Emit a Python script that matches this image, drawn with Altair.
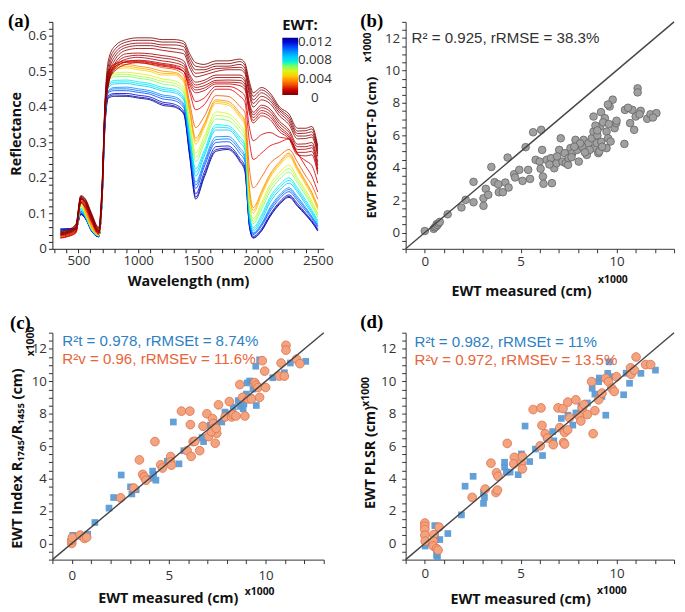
import altair as alt
import pandas as pd

# ---------------- panel (a): reflectance spectra ----------------
WAVELENGTH = [350, 420, 480, 520, 560, 610, 670, 700, 720, 750, 800, 900, 1000, 1100, 1200, 1300, 1380, 1430,
              1480, 1550, 1650, 1750, 1850, 1890, 1930, 1960, 2030, 2100, 2180, 2260, 2330, 2400, 2450, 2500]

W_0120 = [0.055, 0.056, 0.055, 0.098, 0.085, 0.050, 0.034, 0.150, 0.330, 0.425, 0.430, 0.430, 0.425, 0.420, 0.405, 0.400, 0.380, 0.260, 0.140, 0.200, 0.275, 0.280, 0.245, 0.220, 0.060, 0.030, 0.050, 0.090, 0.125, 0.145, 0.120, 0.095, 0.075, 0.050]
W_0115 = [0.056, 0.057, 0.056, 0.097, 0.084, 0.050, 0.034, 0.148, 0.332, 0.428, 0.434, 0.433, 0.428, 0.423, 0.409, 0.403, 0.383, 0.264, 0.146, 0.206, 0.280, 0.284, 0.249, 0.226, 0.062, 0.032, 0.052, 0.092, 0.128, 0.148, 0.123, 0.097, 0.077, 0.052]
W_0110 = [0.054, 0.055, 0.054, 0.100, 0.086, 0.051, 0.035, 0.150, 0.338, 0.432, 0.438, 0.438, 0.433, 0.428, 0.414, 0.408, 0.388, 0.270, 0.155, 0.215, 0.288, 0.290, 0.255, 0.233, 0.065, 0.035, 0.056, 0.096, 0.132, 0.152, 0.128, 0.100, 0.080, 0.055]
W_0100 = [0.052, 0.053, 0.054, 0.104, 0.087, 0.051, 0.035, 0.154, 0.345, 0.440, 0.446, 0.446, 0.441, 0.436, 0.423, 0.418, 0.398, 0.283, 0.170, 0.230, 0.300, 0.302, 0.268, 0.248, 0.071, 0.040, 0.064, 0.105, 0.141, 0.161, 0.136, 0.107, 0.086, 0.060]
W_0095 = [0.051, 0.052, 0.053, 0.106, 0.088, 0.052, 0.036, 0.155, 0.348, 0.443, 0.451, 0.451, 0.446, 0.441, 0.429, 0.424, 0.404, 0.290, 0.180, 0.238, 0.308, 0.310, 0.277, 0.257, 0.076, 0.043, 0.068, 0.111, 0.147, 0.167, 0.142, 0.112, 0.090, 0.064]
W_0090 = [0.050, 0.052, 0.053, 0.106, 0.088, 0.052, 0.036, 0.156, 0.350, 0.446, 0.455, 0.456, 0.451, 0.446, 0.434, 0.429, 0.409, 0.296, 0.188, 0.245, 0.316, 0.317, 0.284, 0.264, 0.080, 0.045, 0.071, 0.116, 0.152, 0.172, 0.147, 0.116, 0.092, 0.066]
W_0080 = [0.050, 0.050, 0.052, 0.110, 0.090, 0.054, 0.037, 0.160, 0.360, 0.455, 0.465, 0.466, 0.461, 0.456, 0.445, 0.440, 0.420, 0.310, 0.205, 0.260, 0.335, 0.335, 0.300, 0.280, 0.090, 0.050, 0.080, 0.130, 0.165, 0.185, 0.160, 0.125, 0.100, 0.070]
W_0075 = [0.048, 0.050, 0.052, 0.113, 0.091, 0.054, 0.037, 0.161, 0.362, 0.460, 0.470, 0.471, 0.466, 0.461, 0.450, 0.445, 0.425, 0.318, 0.216, 0.268, 0.343, 0.341, 0.308, 0.289, 0.095, 0.055, 0.088, 0.138, 0.173, 0.193, 0.166, 0.131, 0.105, 0.075]
W_0070 = [0.047, 0.049, 0.051, 0.115, 0.092, 0.055, 0.037, 0.162, 0.365, 0.464, 0.475, 0.476, 0.471, 0.466, 0.455, 0.450, 0.430, 0.325, 0.226, 0.276, 0.350, 0.347, 0.315, 0.296, 0.100, 0.060, 0.095, 0.145, 0.180, 0.200, 0.172, 0.137, 0.110, 0.080]
W_0060 = [0.045, 0.048, 0.050, 0.120, 0.095, 0.056, 0.038, 0.165, 0.370, 0.472, 0.485, 0.486, 0.481, 0.476, 0.465, 0.460, 0.440, 0.342, 0.246, 0.296, 0.366, 0.362, 0.330, 0.311, 0.112, 0.071, 0.111, 0.161, 0.196, 0.216, 0.186, 0.150, 0.121, 0.090]
W_0055 = [0.044, 0.047, 0.050, 0.123, 0.096, 0.057, 0.038, 0.166, 0.372, 0.476, 0.490, 0.492, 0.487, 0.482, 0.472, 0.467, 0.447, 0.351, 0.258, 0.306, 0.376, 0.372, 0.340, 0.321, 0.121, 0.078, 0.121, 0.171, 0.206, 0.226, 0.194, 0.158, 0.128, 0.095]
W_0050 = [0.042, 0.046, 0.050, 0.126, 0.098, 0.058, 0.039, 0.168, 0.374, 0.480, 0.495, 0.498, 0.494, 0.489, 0.479, 0.474, 0.455, 0.360, 0.270, 0.316, 0.386, 0.381, 0.350, 0.330, 0.130, 0.085, 0.130, 0.180, 0.215, 0.236, 0.201, 0.165, 0.135, 0.100]
W_0040 = [0.040, 0.045, 0.050, 0.135, 0.100, 0.060, 0.040, 0.170, 0.380, 0.490, 0.505, 0.510, 0.505, 0.500, 0.490, 0.490, 0.470, 0.380, 0.295, 0.340, 0.410, 0.405, 0.370, 0.350, 0.150, 0.100, 0.150, 0.200, 0.235, 0.260, 0.220, 0.180, 0.150, 0.110]
W_0035 = [0.038, 0.043, 0.050, 0.138, 0.104, 0.062, 0.040, 0.170, 0.381, 0.494, 0.509, 0.515, 0.510, 0.505, 0.495, 0.494, 0.475, 0.388, 0.304, 0.346, 0.415, 0.410, 0.376, 0.356, 0.160, 0.108, 0.156, 0.205, 0.240, 0.265, 0.225, 0.185, 0.155, 0.115]
W_0030 = [0.035, 0.040, 0.050, 0.140, 0.108, 0.065, 0.040, 0.170, 0.382, 0.498, 0.514, 0.520, 0.515, 0.510, 0.501, 0.498, 0.480, 0.396, 0.312, 0.352, 0.420, 0.416, 0.382, 0.362, 0.170, 0.116, 0.162, 0.210, 0.245, 0.270, 0.230, 0.190, 0.160, 0.120]
W_0022 = [0.031, 0.036, 0.046, 0.132, 0.110, 0.070, 0.041, 0.172, 0.385, 0.496, 0.520, 0.526, 0.525, 0.520, 0.511, 0.506, 0.490, 0.412, 0.342, 0.372, 0.432, 0.430, 0.401, 0.385, 0.222, 0.172, 0.202, 0.240, 0.262, 0.280, 0.245, 0.205, 0.180, 0.140]
W_0015 = [0.030, 0.035, 0.045, 0.130, 0.115, 0.075, 0.042, 0.172, 0.383, 0.492, 0.520, 0.530, 0.530, 0.526, 0.520, 0.515, 0.500, 0.442, 0.392, 0.406, 0.450, 0.450, 0.430, 0.415, 0.300, 0.252, 0.270, 0.290, 0.300, 0.310, 0.270, 0.232, 0.205, 0.160]
W_0012 = [0.032, 0.037, 0.047, 0.130, 0.118, 0.078, 0.044, 0.171, 0.378, 0.482, 0.512, 0.526, 0.528, 0.524, 0.518, 0.512, 0.500, 0.452, 0.415, 0.425, 0.458, 0.458, 0.445, 0.432, 0.340, 0.305, 0.322, 0.328, 0.315, 0.310, 0.268, 0.248, 0.235, 0.185]
W_0009 = [0.036, 0.040, 0.050, 0.130, 0.120, 0.080, 0.045, 0.170, 0.370, 0.470, 0.500, 0.520, 0.525, 0.521, 0.515, 0.510, 0.500, 0.462, 0.440, 0.446, 0.465, 0.465, 0.460, 0.450, 0.380, 0.355, 0.375, 0.365, 0.330, 0.310, 0.265, 0.262, 0.265, 0.210]
W_0008 = [0.038, 0.043, 0.053, 0.135, 0.122, 0.082, 0.046, 0.170, 0.365, 0.465, 0.505, 0.528, 0.532, 0.529, 0.523, 0.518, 0.508, 0.469, 0.448, 0.453, 0.470, 0.470, 0.468, 0.458, 0.388, 0.362, 0.383, 0.373, 0.338, 0.315, 0.272, 0.272, 0.275, 0.218]
W_0007 = [0.040, 0.045, 0.055, 0.140, 0.125, 0.085, 0.046, 0.170, 0.360, 0.460, 0.510, 0.535, 0.540, 0.536, 0.530, 0.525, 0.515, 0.476, 0.455, 0.460, 0.475, 0.476, 0.475, 0.465, 0.395, 0.370, 0.390, 0.380, 0.345, 0.320, 0.280, 0.281, 0.285, 0.225]
W_0006 = [0.042, 0.047, 0.058, 0.142, 0.128, 0.088, 0.048, 0.170, 0.360, 0.465, 0.515, 0.542, 0.546, 0.543, 0.538, 0.533, 0.522, 0.484, 0.462, 0.468, 0.483, 0.483, 0.483, 0.473, 0.403, 0.378, 0.398, 0.388, 0.353, 0.328, 0.288, 0.288, 0.292, 0.235]
W_0005 = [0.045, 0.050, 0.060, 0.145, 0.130, 0.090, 0.050, 0.170, 0.360, 0.470, 0.520, 0.550, 0.552, 0.550, 0.545, 0.540, 0.530, 0.491, 0.470, 0.475, 0.490, 0.490, 0.490, 0.480, 0.410, 0.385, 0.405, 0.395, 0.360, 0.335, 0.295, 0.296, 0.300, 0.245]
W_0004 = [0.040, 0.045, 0.060, 0.140, 0.130, 0.090, 0.050, 0.180, 0.370, 0.480, 0.530, 0.560, 0.565, 0.565, 0.560, 0.555, 0.550, 0.510, 0.485, 0.490, 0.500, 0.505, 0.505, 0.495, 0.430, 0.400, 0.420, 0.410, 0.375, 0.350, 0.310, 0.311, 0.315, 0.260]
W_0003 = [0.043, 0.048, 0.062, 0.142, 0.132, 0.092, 0.052, 0.185, 0.375, 0.490, 0.540, 0.568, 0.573, 0.573, 0.568, 0.565, 0.560, 0.520, 0.495, 0.498, 0.508, 0.510, 0.512, 0.502, 0.440, 0.410, 0.430, 0.418, 0.383, 0.358, 0.318, 0.318, 0.322, 0.268]
W_0002 = [0.045, 0.050, 0.065, 0.145, 0.135, 0.095, 0.055, 0.190, 0.380, 0.500, 0.550, 0.575, 0.580, 0.580, 0.575, 0.575, 0.570, 0.530, 0.505, 0.505, 0.515, 0.515, 0.520, 0.510, 0.450, 0.420, 0.440, 0.425, 0.390, 0.365, 0.325, 0.326, 0.330, 0.275]
W_0001 = [0.048, 0.053, 0.068, 0.148, 0.138, 0.098, 0.058, 0.195, 0.390, 0.515, 0.560, 0.583, 0.588, 0.588, 0.583, 0.583, 0.578, 0.540, 0.515, 0.512, 0.522, 0.522, 0.528, 0.518, 0.460, 0.430, 0.448, 0.433, 0.395, 0.372, 0.332, 0.333, 0.338, 0.282]
W_0000 = [0.050, 0.055, 0.070, 0.150, 0.140, 0.100, 0.060, 0.200, 0.400, 0.530, 0.570, 0.590, 0.595, 0.595, 0.590, 0.590, 0.585, 0.550, 0.525, 0.520, 0.530, 0.530, 0.535, 0.525, 0.470, 0.440, 0.455, 0.440, 0.400, 0.380, 0.340, 0.340, 0.345, 0.290]

# wet spectra first so the dry (dark red) ones are drawn on top
SPECTRA = [(0.0120, W_0120), (0.0115, W_0115), (0.0110, W_0110), (0.0100, W_0100), (0.0095, W_0095),
           (0.0090, W_0090), (0.0080, W_0080), (0.0075, W_0075), (0.0070, W_0070), (0.0060, W_0060),
           (0.0055, W_0055), (0.0050, W_0050), (0.0040, W_0040), (0.0035, W_0035), (0.0030, W_0030),
           (0.0022, W_0022), (0.0015, W_0015), (0.0012, W_0012), (0.0009, W_0009), (0.0008, W_0008),
           (0.0007, W_0007), (0.0006, W_0006), (0.0005, W_0005), (0.0004, W_0004), (0.0003, W_0003),
           (0.0002, W_0002), (0.0001, W_0001), (0.0000, W_0000)]

JET_DOMAIN = [0, 0.0015, 0.003, 0.0045, 0.006, 0.0075, 0.009, 0.0105, 0.012]
JET_RANGE = ["#800000", "#e60000", "#ff8c00", "#ffee00", "#7fff5f", "#00e0ff", "#0090ff", "#0010ff", "#00008f"]
LEGEND_LABELS = ["0.012", "0.008", "0.004", "0"]

A_X_TICKS = list(range(300, 2600, 100))
A_Y_TICKS = [round(i * 0.02, 2) for i in range(0, 33)]

# ---------------- panel (b): PROSPECT-D ----------------
B_MEAS = [0.0, 0.46, 0.52, 0.58, 0.62, 0.66, 0.72, 0.78, 1.19, 1.91, 2.13, 2.54, 2.54, 3.06, 3.06, 3.18, 3.31, 3.47,
          3.64, 3.83, 3.86, 4.07, 4.20, 4.37, 4.32, 4.66, 4.71, 4.93, 5.10, 5.39, 5.49, 5.26, 5.65, 6.07, 5.78, 5.99,
          6.12, 6.04, 6.16, 6.19, 6.36, 6.58, 6.63, 6.75, 6.87, 7.09, 7.01, 7.18, 7.35, 7.47, 7.60, 7.69, 7.86, 7.94,
          8.03, 8.20, 8.28, 8.45, 8.54, 8.71, 8.80, 8.85, 8.97, 9.05, 9.14, 8.80, 9.19, 9.39, 9.48, 9.56, 9.48, 9.64,
          9.69, 9.90, 9.98, 10.41, 10.44, 10.71, 10.83, 10.92, 11.00, 11.26, 11.60, 11.77, 12.08, 11.10, 11.10, 9.80,
          9.55, 7.30, 7.50, 8.60, 9.00, 9.30, 8.10, 7.80, 6.90, 6.50, 9.20, 8.35, 7.65, 9.10, 9.25, 8.90, 9.60, 10.00,
          10.60, 11.20, 11.90, 9.00]
B_PRED = [0.10, 0.23, 0.32, 0.37, 0.52, 0.47, 0.58, 0.66, 1.13, 1.55, 2.02, 1.87, 3.13, 1.65, 2.12, 2.70, 2.33, 4.05,
          3.11, 2.98, 2.49, 2.49, 3.09, 2.78, 4.63, 3.60, 3.40, 3.87, 3.19, 3.87, 3.31, 5.27, 6.19, 6.34, 4.49, 4.38,
          5.10, 3.94, 3.46, 3.01, 4.49, 4.59, 3.05, 3.97, 4.28, 5.82, 5.10, 4.38, 4.28, 4.18, 5.21, 4.90, 5.72, 5.10,
          4.38, 5.31, 5.72, 4.79, 5.52, 5.82, 6.23, 5.21, 5.52, 4.90, 6.54, 7.16, 7.43, 7.06, 6.23, 5.82, 5.21, 7.78,
          5.62, 6.44, 6.75, 5.47, 7.57, 6.75, 7.57, 6.34, 7.16, 7.51, 7.02, 7.30, 7.37, 8.90, 8.65, 8.20,
          7.90, 4.90, 4.60, 5.10, 6.00, 6.80, 5.50, 5.30, 4.70, 4.20, 5.60, 4.95, 4.65, 5.00, 5.30, 6.60, 6.70, 6.90,
          7.70, 7.30, 7.10, 6.30]

# ---------------- panel (c): index R1745/R1455 ----------------
C_TRAIN_MEAS = [0.00, 0.05, 0.82, 0.70, 1.19, 1.92, 2.16, 2.55, 3.03, 3.10, 3.32, 4.08, 4.17, 4.22, 4.34, 4.93, 5.24,
                5.53, 5.78, 6.29, 6.72, 6.80, 7.14, 7.48, 7.74, 7.99, 8.33, 8.59, 8.84, 8.88, 9.01, 9.18, 9.35, 9.49,
                9.52, 9.69, 10.37, 10.80, 10.97, 11.28, 12.07, 9.05, 8.70, 7.90, 9.20]
C_TRAIN_PRED = [0.30, 0.50, 0.57, 0.45, 1.29, 2.18, 2.83, 4.22, 3.49, 3.05, 3.31, 4.02, 4.46, 4.26, 3.90, 5.07, 7.49,
                4.91, 5.72, 6.28, 6.53, 6.28, 7.29, 7.39, 7.49, 8.00, 8.40, 8.81, 8.30, 8.61, 9.21, 10.02, 9.52, 10.93,
                8.51, 11.33, 10.22, 10.32, 10.53, 11.13, 11.23, 9.90, 8.45, 8.10, 9.00]
C_VAL_MEAS = [0.00, 0.00, 0.03, 0.43, 0.65, 0.77, 2.52, 3.20, 3.49, 3.66, 3.74, 3.83, 4.29, 4.59, 4.68, 5.10, 5.10,
              5.14, 5.66, 6.09, 6.12, 5.95, 6.16, 6.26, 6.60, 6.77, 6.97, 7.06, 7.26, 7.31, 7.31, 7.40, 7.48, 7.57,
              7.91, 8.13, 8.25, 8.33, 8.47, 8.67, 8.81, 8.93, 9.10, 9.27, 9.44, 9.52, 9.61, 9.69, 9.83, 9.95, 10.00,
              10.80, 10.71, 10.97, 11.05, 11.05, 11.60, 11.77, 6.35, 7.20, 7.45]
C_VAL_PRED = [0.00, 0.20, 0.36, 0.51, 0.31, 0.38, 2.81, 3.41, 5.15, 4.26, 4.10, 3.90, 6.28, 4.85, 4.65, 5.36, 5.03,
              4.83, 8.16, 8.16, 7.33, 5.72, 5.37, 6.28, 5.72, 7.23, 8.00, 6.59, 7.70, 7.39, 7.09, 6.18, 6.79, 8.55,
              7.80, 8.75, 7.80, 7.94, 7.86, 9.80, 9.01, 7.86, 8.91, 8.91, 9.92, 9.76, 9.62, 9.01, 11.27, 10.63, 9.62,
              11.13, 10.32, 10.32, 12.22, 11.92, 11.37, 11.09, 6.30, 6.90, 7.10]

# ---------------- panel (d): PLSR ----------------
D_TRAIN_MEAS = [0.02, 0.07, 0.52, 0.58, 0.61, 0.66, 0.78, 0.55, 1.20, 1.91, 2.10, 2.52, 3.06, 3.06, 3.11, 4.16, 4.16,
                4.25, 4.45, 4.87, 5.04, 5.23, 5.47, 5.77, 6.14, 6.36, 6.67, 6.73, 7.12, 7.46, 7.72, 7.88, 8.14, 8.48,
                8.73, 8.87, 9.07, 9.10, 9.24, 9.44, 9.54, 9.61, 9.83, 10.37, 10.68, 11.27, 12.03, 10.50]
D_TRAIN_PRED = [-0.16, 0.04, 1.10, 0.24, -0.73, -0.83, 0.24, 0.60, 0.61, 1.76, 3.53, 4.14, 3.14, 2.47, 2.84, 5.01,
                4.71, 4.40, 4.40, 4.24, 5.52, 7.24, 5.05, 5.82, 5.42, 6.53, 6.90, 6.33, 7.71, 7.91, 7.30, 8.05, 8.46,
                8.66, 9.57, 9.21, 9.98, 10.20, 9.07, 7.91, 10.49, 11.20, 10.28, 9.17, 9.88, 10.49, 10.69, 10.50]
D_VAL_MEAS = [0.00, 0.00, 0.00, 0.00, 0.02, 0.47, 0.44, 0.44, 0.61, 0.69, 0.74, 2.47, 3.15, 3.45, 3.71, 3.79, 3.74,
              3.82, 4.30, 4.67, 4.64, 5.04, 5.09, 5.09, 5.65, 6.06, 6.11, 6.02, 6.28, 6.40, 6.70, 6.95, 7.21, 7.04,
              7.24, 7.29, 7.46, 7.55, 7.88, 8.05, 8.14, 8.22, 8.31, 8.48, 8.70, 8.78, 8.87, 9.07, 9.24, 9.44, 9.58,
              9.75, 9.88, 10.00, 10.73, 10.76, 11.02, 10.93, 11.52, 11.78, 7.30, 7.45]
D_VAL_PRED = [1.26, 1.05, 0.85, 0.51, 0.14, 0.55, 0.14, -0.16, -0.32, -0.41, 1.01, 2.84, 3.35, 4.95, 3.14, 3.29, 4.36,
              4.14, 6.17, 5.31, 4.91, 4.95, 4.60, 5.36, 8.26, 8.36, 7.28, 6.02, 6.77, 6.50, 6.09, 8.36, 8.32, 7.14,
              6.23, 6.13, 8.72, 7.75, 8.86, 7.85, 7.55, 8.36, 8.56, 7.95, 9.98, 6.77, 8.19, 8.86, 9.27, 10.18, 9.98,
              9.57, 9.37, 10.28, 10.83, 10.43, 11.50, 10.69, 11.03, 11.03, 6.85, 7.00]

ONE_TO_ONE = [-1, 13]
S_DOMAIN = [-1, 13]
S_X_TICKS = list(range(-1, 14))
S_Y_TICKS = [i / 2 for i in range(-2, 27)]

BLUE = "#5b9bd5"
BLUE_TXT = "#2e7fc4"
ORANGE_FILL = "#f2a37f"
ORANGE_STROKE = "#e0704a"
ORANGE_TXT = "#e8653a"

WA, HA = 275, 230
WB = 272


def txt(s, x, y, color="#333333", size=15.0, font="Liberation Sans", weight="normal",
        align="left", baseline="middle", angle=0):
    return alt.Chart(pd.DataFrame({"t": [s]})).mark_text(
        align=align, baseline=baseline, font=font, fontSize=size, fontWeight=weight,
        color=color, angle=angle
    ).encode(text="t:N", x=alt.value(x), y=alt.value(y))


def panel_label(s, x, y):
    return txt(s, x, y, color="#000000", size=19, font="Liberation Serif", weight="bold",
               align="left", baseline="top")


def sup(x, y, vertical=False):
    if vertical:
        return txt("x1000", x, y, color="#111111", size=10.5, font="Open Sans", weight="bold",
                   align="left", baseline="middle", angle=270)
    return txt("x1000", x, y, color="#111111", size=10.5, font="Open Sans", weight="bold",
               align="left", baseline="middle")


# ---------------- build panel (a) ----------------
rows = []
for k, (ewt, refl) in enumerate(SPECTRA):
    for wl, r in zip(WAVELENGTH, refl):
        rows.append({"id": k, "ewt": ewt, "wl": wl, "refl": r})
spec_df = pd.DataFrame(rows)

a_lines = alt.Chart(spec_df).mark_line(strokeWidth=0.85, interpolate="monotone").encode(
    x=alt.X("wl:Q", scale=alt.Scale(domain=[283, 2550], nice=False, zero=False),
            axis=alt.Axis(title="Wavelength (nm)", values=A_X_TICKS,
                          labelExpr="datum.value % 500 == 0 ? format(datum.value, 'd') : ''",
                          tickSize=4, labelPadding=1, titleY=37, titleBaseline="alphabetic",
                          labelFlush=False, labelOverlap=False, domainColor="#222", tickColor="#222")),
    y=alt.Y("refl:Q", scale=alt.Scale(domain=[0, 0.64], nice=False),
            axis=alt.Axis(title="Reflectance", values=A_Y_TICKS,
                          labelExpr="abs(datum.value*10 - round(datum.value*10)) < 0.001 ? (datum.value == 0 ? '0' : format(datum.value, '.1f')) : ''",
                          tickSize=4, labelPadding=2, titleX=-32, titleY=113, titleBaseline="alphabetic",
                          labelFlush=False, labelOverlap=False, domainColor="#222", tickColor="#222")),
    color=alt.Color("ewt:Q", scale=alt.Scale(domain=JET_DOMAIN, range=JET_RANGE),
                    legend=alt.Legend(title="EWT:", orient="none", legendX=233, legendY=-4,
                                      direction="vertical", gradientLength=58, gradientThickness=16,
                                      labelOpacity=0, labelFontSize=1, titleFont="Open Sans",
                                      titleFontSize=15, titleFontWeight="bold", titleColor="#111111",
                                      titlePadding=5, gradientStrokeWidth=0)),
    detail="id:N",
)
legend_text = [txt(lab, 266, pos, color="#333333", size=13.5, font="Open Sans", align="center")
               for lab, pos in zip(LEGEND_LABELS, [20, 39, 58, 77])]

panel_a = alt.layer(a_lines, *legend_text, panel_label("(a)", -45, -10)).properties(width=WA, height=HA)


# ---------------- scatter panel helper ----------------
def scatter_axes(xtitle, ytitle, lab_pad_x, lab_pad_y, title_x_pos, title_x_y, title_y_x, title_y_y,
                 ytitle_size=14.5):
    sc = alt.Scale(domain=S_DOMAIN, nice=False, zero=False)
    xax = alt.Axis(title=xtitle, values=S_X_TICKS,
                   labelExpr="datum.value >= 0 && datum.value % 5 == 0 ? format(datum.value, 'd') : ''",
                   tickSize=4, labelPadding=lab_pad_x, titleX=title_x_pos, titleY=title_x_y,
                   titleBaseline="alphabetic", labelFlush=False, labelOverlap=False)
    yax = alt.Axis(title=ytitle, values=S_Y_TICKS,
                   labelExpr="datum.value >= 0 && datum.value % 2 == 0 ? format(datum.value, 'd') : ''",
                   tickSize=4, labelPadding=lab_pad_y, titleX=title_y_x, titleY=title_y_y,
                   titleBaseline="alphabetic", labelFlush=False, labelOverlap=False,
                   titleFontSize=ytitle_size)
    return sc, xax, yax


def one_to_one(sc, xax, yax):
    return alt.Chart(pd.DataFrame({"meas": ONE_TO_ONE, "pred": ONE_TO_ONE})).mark_line(
        color="#454545", strokeWidth=1.4).encode(
        x=alt.X("meas:Q", scale=sc, axis=xax), y=alt.Y("pred:Q", scale=sc, axis=yax))


# ---------------- panel (b) ----------------
sc, xax, yax = scatter_axes("EWT measured (cm)", "EWT PROSPECT-D (cm)", 2, 2, 117, 47, -31, 127,
                            ytitle_size=13.2)
b_pts = alt.Chart(pd.DataFrame({"meas": B_MEAS, "pred": B_PRED})).mark_circle(
    size=60, fill="#a0a0a0", stroke="#646464", strokeWidth=0.8, opacity=1).encode(
    x=alt.X("meas:Q", scale=sc, axis=xax), y=alt.Y("pred:Q", scale=sc, axis=yax))
panel_b = alt.layer(
    b_pts, one_to_one(sc, xax, yax),
    txt("R² = 0.925, rRMSE = 38.3%", 6, 16.5, color="#333333", size=15.3),
    panel_label("(b)", -46, -10),
    sup(195, 262), sup(-38, 41, vertical=True),
).properties(width=WB, height=HA)

# ---------------- panel (c) ----------------
sc, xax, yax = scatter_axes("EWT measured (cm)", "EWT Index R₁₇₄₅/R₁₄₅₅ (cm)", 5, 2, 117, 43, -31, 127)
c_train = alt.Chart(pd.DataFrame({"meas": C_TRAIN_MEAS, "pred": C_TRAIN_PRED})).mark_square(
    size=46, color=BLUE, opacity=0.95).encode(
    x=alt.X("meas:Q", scale=sc, axis=xax), y=alt.Y("pred:Q", scale=sc, axis=yax))
c_val = alt.Chart(pd.DataFrame({"meas": C_VAL_MEAS, "pred": C_VAL_PRED})).mark_circle(
    size=78, fill=ORANGE_FILL, stroke=ORANGE_STROKE, strokeWidth=0.8, opacity=1).encode(
    x=alt.X("meas:Q", scale=sc, axis=xax), y=alt.Y("pred:Q", scale=sc, axis=yax))
panel_c = alt.layer(
    c_train, c_val, one_to_one(sc, xax, yax),
    txt("R²t = 0.978, rRMSEt = 8.74%", 10, 8, color=BLUE_TXT, size=15.3),
    txt("R²v = 0.96, rRMSEv = 11.6%", 10, 27, color=ORANGE_TXT, size=15.3),
    panel_label("(c)", -43, -19),
    sup(195, 263), sup(-21.5, 24, vertical=True),
).properties(width=WA, height=HA)

# ---------------- panel (d) ----------------
sc, xax, yax = scatter_axes("EWT measured (cm)", "EWT PLSR (cm)", 3, 6, 116, 44, -32, 126)
d_train = alt.Chart(pd.DataFrame({"meas": D_TRAIN_MEAS, "pred": D_TRAIN_PRED})).mark_square(
    size=46, color=BLUE, opacity=0.95).encode(
    x=alt.X("meas:Q", scale=sc, axis=xax), y=alt.Y("pred:Q", scale=sc, axis=yax))
d_val = alt.Chart(pd.DataFrame({"meas": D_VAL_MEAS, "pred": D_VAL_PRED})).mark_circle(
    size=78, fill=ORANGE_FILL, stroke=ORANGE_STROKE, strokeWidth=0.8, opacity=1).encode(
    x=alt.X("meas:Q", scale=sc, axis=xax), y=alt.Y("pred:Q", scale=sc, axis=yax))
panel_d = alt.layer(
    d_train, d_val, one_to_one(sc, xax, yax),
    txt("R²t = 0.982, rRMSEt = 11%", 9, 9.5, color=BLUE_TXT, size=15.3),
    txt("R²v = 0.972, rRMSEv = 13.5%", 9, 28, color=ORANGE_TXT, size=15.3),
    panel_label("(d)", -46, -20),
    sup(194, 262), sup(-40, 75, vertical=True),
).properties(width=WB, height=HA)

chart = alt.concat(
    panel_a, panel_b, panel_c, panel_d, columns=2,
    spacing={"row": 85, "column": 83}, bounds="flush",
).resolve_scale(
    x="independent", y="independent", color="independent"
).properties(
    padding=0
).configure_view(
    stroke=None
).configure_axis(
    grid=False, domainColor="#333333", tickColor="#333333", labelColor="#333333",
    labelFont="Open Sans", labelFontSize=13.5, titleFont="Open Sans", titleFontSize=14.5,
    titleFontWeight="bold", titleColor="#111111", domainWidth=1, tickWidth=1,
)

chart.save("out.html", embed_options={"renderer": "svg", "actions": False})
